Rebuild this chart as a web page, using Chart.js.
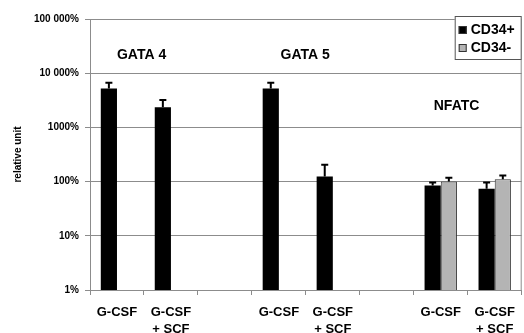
<!DOCTYPE html>
<html>
<head>
<meta charset="utf-8">
<script src="https://cdn.jsdelivr.net/npm/chart.js@4"></script>
<style>
  html, body { margin: 0; padding: 0; background: #fff; }
  #wrap { width: 524px; height: 333px; position: relative; }
</style>
</head>
<body>
<div id="wrap"><canvas id="chart"></canvas></div>
<script>
// Categories (empty slots are the gaps between gene groups)
const categories = [
    ['G-CSF'], ['G-CSF', '+ SCF'], '',
    ['G-CSF'], ['G-CSF', '+ SCF'], '',
    ['G-CSF'], ['G-CSF', '+ SCF']
];

// Values in % (relative unit)
const cd34Pos = [5200, 2350, null, 5200, 124, null, 85, 74];
const cd34Neg = [null, null, null, null, null, null, 100, 110];

// Upper end of the error bars
const cd34PosErr = [6700, 3200, null, 6700, 205, null, 96, 96];
const cd34NegErr = [null, null, null, null, null, null, 118, 129];

// Log axis ticks
const yTickValues = [1, 10, 100, 1000, 10000, 100000];
const yTickLabels = ['1%', '10%', '100%', '1000%', '10 000%', '100 000%'];

// Gene group labels: [text, category position, value]
const groupLabels = [
    ['GATA 4', 0, 22000],
    ['GATA 5', 3.03, 22000],
    ['NFATC', 5.87, 2500]
];

const FONT = "'Liberation Sans', Arial, sans-serif";
const GRID = '#8c8c8c';

// Error bars, group labels, plot frame and legend box
const extras = {
    id: 'extras',
    afterDatasetsDraw(chart) {
        const ctx = chart.ctx;
        const x = chart.scales.x, y = chart.scales.y;
        const area = chart.chartArea;
        const errs = [cd34PosErr, cd34NegErr];

        ctx.save();
        // frame top/right
        ctx.strokeStyle = GRID;
        ctx.lineWidth = 1;
        ctx.beginPath();
        ctx.moveTo(area.left, area.top + 0.5);
        ctx.lineTo(area.right - 0.5, area.top + 0.5);
        ctx.lineTo(area.right - 0.5, area.bottom);
        ctx.stroke();

        // error bars
        ctx.strokeStyle = '#000';
        ctx.lineWidth = 2;
        chart.data.datasets.forEach((ds, di) => {
            const meta = chart.getDatasetMeta(di);
            meta.data.forEach((bar, i) => {
                const hi = errs[di][i];
                if (hi == null || ds.data[i] == null) return;
                const top = y.getPixelForValue(hi);
                ctx.beginPath();
                ctx.moveTo(bar.x, bar.y);
                ctx.lineTo(bar.x, top);
                ctx.moveTo(bar.x - 3.5, top);
                ctx.lineTo(bar.x + 3.5, top);
                ctx.stroke();
            });
        });

        // group labels
        ctx.fillStyle = '#000';
        ctx.font = 'bold 14px ' + FONT;
        ctx.textAlign = 'left';
        ctx.textBaseline = 'middle';
        groupLabels.forEach(([txt, pos, val]) => {
            ctx.fillText(txt, x.getPixelForValue(pos), y.getPixelForValue(val));
        });

        // legend box in the top right corner
        const bx = area.right - 67, by = area.top - 3, bw = 67, bh = 44;
        ctx.fillStyle = '#fff';
        ctx.fillRect(bx, by, bw, bh);
        ctx.strokeStyle = '#555';
        ctx.lineWidth = 1;
        ctx.strokeRect(bx + 0.5, by + 0.5, bw - 1, bh - 1);
        ctx.font = 'bold 14px ' + FONT;
        chart.data.datasets.forEach((ds, di) => {
            const cy = by + 14 + di * 18;
            ctx.fillStyle = ds.backgroundColor;
            ctx.fillRect(bx + 4, cy - 4, 8, 8);
            ctx.strokeStyle = '#333';
            ctx.strokeRect(bx + 4.5, cy - 3.5, 7, 7);
            ctx.fillStyle = '#000';
            ctx.fillText(ds.label, bx + 16, cy);
        });
        ctx.restore();
    }
};

new Chart(document.getElementById('chart'), {
    type: 'bar',
    data: {
        labels: categories,
        datasets: [
            { label: 'CD34+', data: cd34Pos, backgroundColor: '#000000', borderColor: '#000000', borderWidth: 0 },
            { label: 'CD34-', data: cd34Neg, backgroundColor: '#b4b4b4', borderColor: '#333333', borderWidth: 1 }
        ]
    },
    options: {
        responsive: true,
        maintainAspectRatio: false,
        animation: false,
        categoryPercentage: 0.6,
        barPercentage: 1.0,
        layout: { padding: { left: 0, right: 1, top: 19, bottom: 0 } },
        plugins: {
            legend: { display: false },
            tooltip: { enabled: false }
        },
        scales: {
            x: {
                grid: { drawOnChartArea: false, offset: true, tickLength: 5, color: GRID },
                border: { color: GRID },
                ticks: {
                    color: '#000',
                    font: { family: FONT, size: 13, weight: 'bold', lineHeight: 1.3 },
                    padding: 9,
                    maxRotation: 0,
                    autoSkip: false
                },
                afterFit: s => { s.height = 43; }
            },
            y: {
                type: 'logarithmic',
                min: 1,
                max: 100000,
                grid: { color: GRID, tickLength: 5 },
                border: { color: GRID },
                title: {
                    display: true,
                    text: 'relative unit',
                    color: '#000',
                    font: { family: FONT, size: 10, weight: 'bold' },
                    padding: { top: 12, bottom: 0 }
                },
                afterBuildTicks: s => { s.ticks = yTickValues.map(v => ({ value: v })); },
                ticks: {
                    color: '#000',
                    font: { family: FONT, size: 10, weight: 'bold' },
                    padding: 6,
                    callback: v => yTickLabels[yTickValues.indexOf(v)]
                },
                afterFit: s => { s.width = 90; }
            }
        }
    },
    plugins: [extras]
});
</script>
</body>
</html>
